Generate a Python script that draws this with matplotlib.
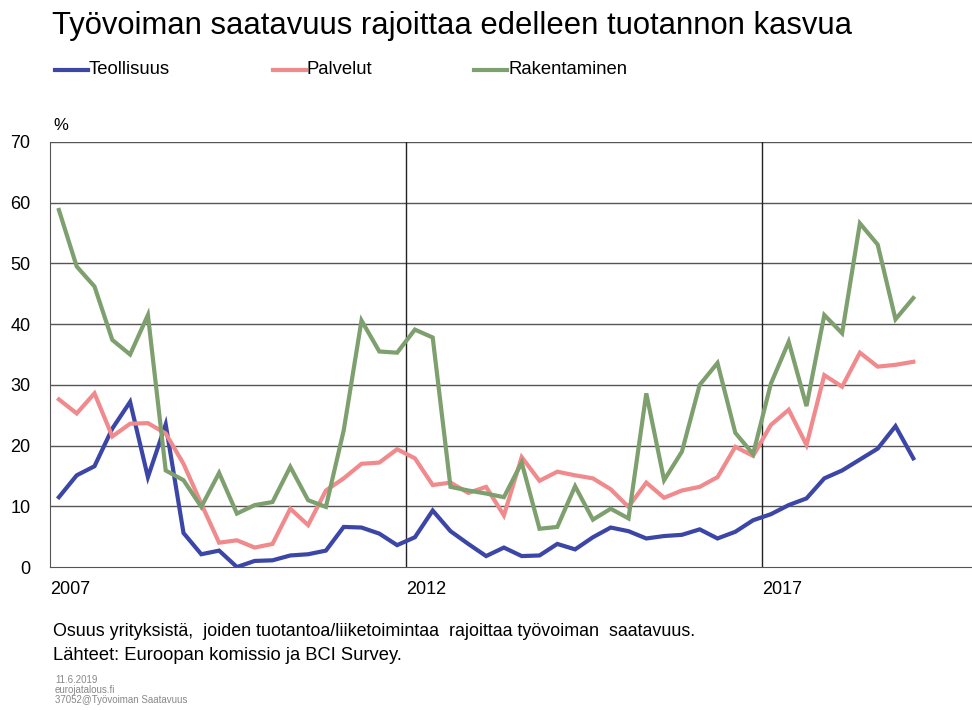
import numpy as np
import matplotlib.pyplot as plt
from matplotlib.lines import Line2D

# ============================================================
# DATA (quarterly, 2007 Q1 .. 2019 Q1), % of firms
# ============================================================
START_YEAR = 2007
SERIES_NAMES = ["Teollisuus", "Palvelut", "Rakentaminen"]

teollisuus = [11.5, 15.1, 16.6, 22.8, 27.2, 14.8, 23.5, 5.6, 2.1, 2.7,
              0.0, 1.0, 1.1, 1.9, 2.1, 2.7, 6.6, 6.5, 5.5, 3.6,
              4.9, 9.3, 5.9, 3.8, 1.8, 3.2, 1.8, 1.9, 3.8, 2.9,
              4.9, 6.5, 5.9, 4.7, 5.1, 5.3, 6.2, 4.7, 5.8, 7.7,
              8.7, 10.2, 11.3, 14.6, 15.9, 17.7, 19.5, 23.2, 17.9]

palvelut = [27.6, 25.3, 28.6, 21.5, 23.6, 23.7, 22.0, 17.0, 10.4, 4.0,
            4.4, 3.2, 3.8, 9.6, 6.9, 12.6, 14.6, 17.0, 17.2, 19.4,
            17.9, 13.5, 13.9, 12.2, 13.2, 8.5, 18.1, 14.2, 15.7, 15.1,
            14.6, 12.8, 9.9, 13.9, 11.4, 12.6, 13.2, 14.8, 19.8, 18.3,
            23.4, 25.9, 20.1, 31.6, 29.7, 35.3, 33.0, 33.3, 33.8]

rakentaminen = [58.8, 49.5, 46.2, 37.4, 35.0, 41.5, 15.9, 14.3, 9.9, 15.5,
                8.8, 10.2, 10.7, 16.5, 11.0, 9.9, 22.5, 40.6, 35.5, 35.3,
                39.1, 37.8, 13.2, 12.6, 12.1, 11.5, 17.2, 6.3, 6.6, 13.3,
                7.8, 9.6, 8.0, 28.6, 14.3, 19.0, 30.0, 33.6, 22.1, 18.6,
                30.2, 37.1, 26.5, 41.5, 38.5, 56.6, 53.1, 40.8, 44.3]

YEAR_TICKS = [2007, 2012, 2017]
Y_TICKS = [0, 10, 20, 30, 40, 50, 60, 70]

COLORS = ["#3c46a6", "#f08a8c", "#7e9f6e"]

TITLE = "Työvoiman saatavuus rajoittaa edelleen tuotannon kasvua"
NOTE1 = "Osuus yrityksistä,  joiden tuotantoa/liiketoimintaa  rajoittaa työvoiman  saatavuus."
NOTE2 = "Lähteet: Euroopan komissio ja BCI Survey."
SMALL = ["11.6.2019", "eurojatalous.fi", "37052@Työvoiman Saatavuus"]

plt.rcParams["font.family"] = ["Liberation Sans", "DejaVu Sans"]

W, H = 972, 710


def fx(px):
    return px / W


def fy(py):
    return 1 - py / H


# ============================================================
# PLOT
# ============================================================
n = len(teollisuus)
x = START_YEAR + (np.arange(n) + 0.5) / 4

fig = plt.figure(figsize=(W / 100, H / 100), dpi=100)
ax = fig.add_axes([fx(50), fy(567), 1 - fx(50), 425 / H])

for vals, col in zip([teollisuus, palvelut, rakentaminen], COLORS):
    ax.plot(x, vals, color=col, lw=3.0, solid_joinstyle="miter", zorder=3)

ax.set_xlim(START_YEAR, START_YEAR + 922 / 71.2)
ax.set_ylim(0, 70)
ax.set_yticks(Y_TICKS)
ax.set_xticks(YEAR_TICKS)
ax.set_xticklabels([str(y) for y in YEAR_TICKS], ha="left", fontsize=13)
ax.tick_params(axis="y", labelsize=13, length=0, pad=14)
ax.tick_params(axis="x", length=0, pad=10)

for v in Y_TICKS[1:]:
    ax.axhline(v, color="#555555", lw=1.0, zorder=1)
for yr in YEAR_TICKS[1:]:
    ax.axvline(yr, color="#222222", lw=1.0, zorder=1)

for s in ["top", "right"]:
    ax.spines[s].set_visible(False)
ax.spines["left"].set_color("#555555")
ax.spines["bottom"].set_color("#555555")

fig.text(fx(53), fy(125), "%", fontsize=12, va="center")

fig.text(fx(52), fy(26), TITLE, fontsize=22.3, va="center")

# legend, drawn by hand to match the original spacing
leg_x = [55, 273, 474]
for lx, name, col in zip(leg_x, SERIES_NAMES, COLORS):
    fig.add_artist(Line2D([fx(lx), fx(lx + 33)], [fy(70), fy(70)], color=col, lw=3.0,
                          transform=fig.transFigure))
    fig.text(fx(lx + 34), fy(70), name, fontsize=13.3, va="center")

fig.text(fx(53), fy(631), NOTE1, fontsize=12.9, va="center")
fig.text(fx(53), fy(655), NOTE2, fontsize=13.2, va="center")
for i, s in enumerate(SMALL):
    fig.text(fx(55), fy(680 + 10 * i), s, fontsize=7, color="#888888", va="center")

fig.savefig("out.png", dpi=100)
